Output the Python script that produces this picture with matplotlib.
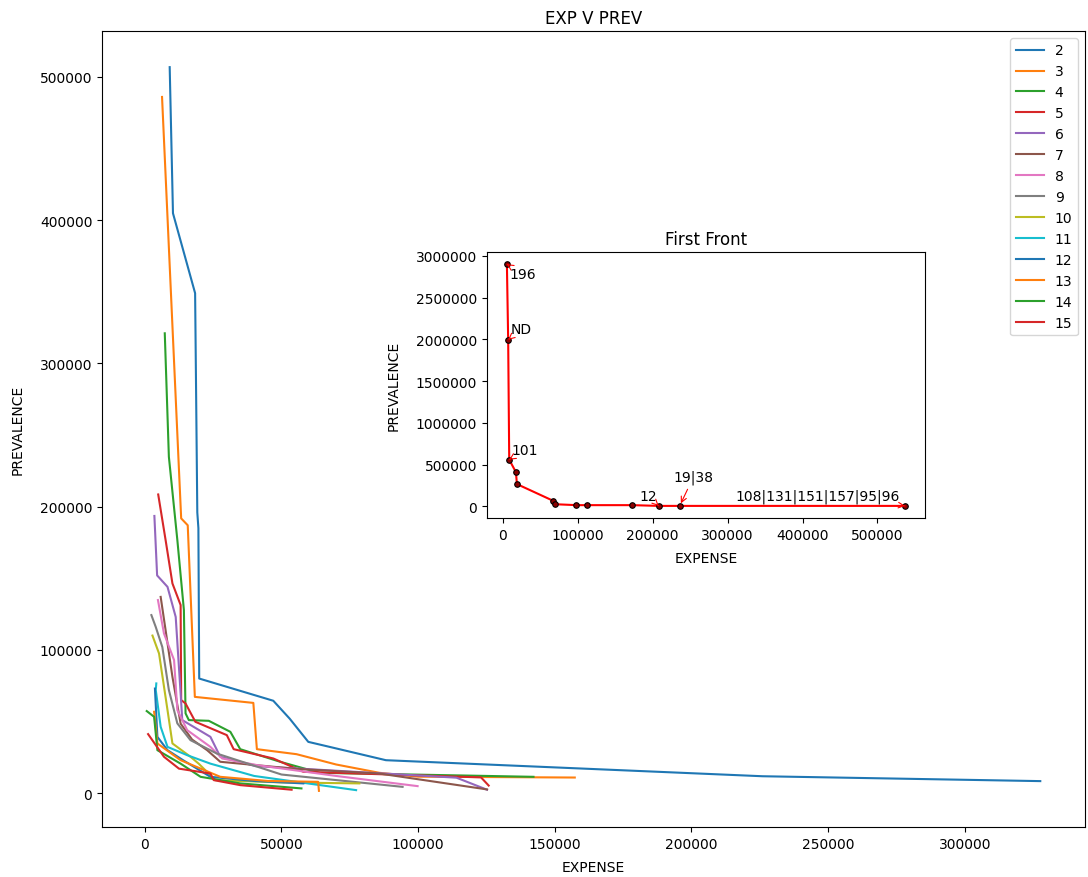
import matplotlib
matplotlib.use("Agg")
import matplotlib.pyplot as plt

# ---- main chart data (EXPENSE, PREVALENCE) per generation ----
labels = ["2", "3", "4", "5", "6", "7", "8", "9", "10", "11", "12", "13", "14", "15"]

exp_2 = [9100, 10300, 18400, 19200, 19600, 19900, 47000, 53000, 59800, 67600, 88200, 226000, 327600]
prev_2 = [506800, 404800, 349000, 196000, 185000, 80000, 64500, 52000, 35800, 32300, 23000, 11800, 8400]

exp_3 = [6300, 13300, 15700, 18300, 39700, 41000, 55500, 70000, 85800, 100000, 157300]
prev_3 = [486000, 191800, 187000, 67200, 63000, 30700, 27200, 20000, 14200, 11500, 10900]

exp_4 = [7300, 8800, 11900, 14300, 14900, 16100, 23400, 31300, 34900, 49500, 64000, 142200]
prev_4 = [321000, 234800, 176700, 127800, 55700, 51000, 50500, 42800, 30700, 21900, 14200, 11400]

exp_5 = [4900, 7600, 10100, 13100, 13300, 14900, 18500, 30000, 32500, 47000, 58000, 123000, 125800]
prev_5 = [208500, 176700, 146400, 131300, 65000, 62600, 49800, 40500, 30700, 24200, 14900, 11000, 5300]

exp_6 = [3500, 4500, 8300, 11300, 13100, 13700, 24000, 27600, 40400, 114000, 125200]
prev_6 = [193500, 152000, 144000, 123000, 69600, 51000, 39300, 25400, 18900, 10800, 2400]

exp_7 = [5800, 7600, 10100, 13100, 17300, 22800, 27600, 55000, 85800, 125200]
prev_7 = [137000, 113800, 81200, 48500, 37400, 30000, 21900, 17000, 13700, 2600]

exp_8 = [4800, 7000, 10700, 11900, 15500, 24000, 28300, 41000, 70000, 99800]
prev_8 = [134800, 111500, 92900, 58000, 44000, 32300, 24200, 19600, 12000, 4900]

exp_9 = [2400, 4000, 6400, 8800, 11900, 16700, 26400, 50000, 94300]
prev_9 = [124300, 116000, 102000, 72000, 48700, 37000, 27600, 13000, 4400]

exp_10 = [2800, 5200, 8300, 10100, 16700, 19700, 25800, 50000, 78500]
prev_10 = [110000, 97500, 58000, 34700, 25400, 20600, 9100, 7500, 6800]

exp_11 = [4200, 4000, 5800, 8300, 15500, 24000, 40000, 77300]
prev_11 = [76600, 72000, 46300, 32300, 26500, 20600, 12000, 2100]

exp_12 = [3700, 4600, 8300, 14000, 24000, 40000, 58000]
prev_12 = [73000, 39300, 30000, 23000, 11400, 8500, 6800]

exp_13 = [3400, 4600, 13100, 27600, 45000, 63400, 63700]
prev_13 = [56800, 34700, 23000, 11400, 8500, 7900, 1600]

exp_14 = [700, 3400, 4600, 13100, 20400, 34900, 57300]
prev_14 = [57300, 53300, 30000, 20600, 11400, 6800, 3300]

exp_15 = [1200, 7000, 12500, 24000, 25200, 34900, 53700]
prev_15 = [41200, 25400, 17100, 13700, 9100, 5600, 2400]

expenses = [exp_2, exp_3, exp_4, exp_5, exp_6, exp_7, exp_8, exp_9, exp_10,
            exp_11, exp_12, exp_13, exp_14, exp_15]
prevalences = [prev_2, prev_3, prev_4, prev_5, prev_6, prev_7, prev_8, prev_9,
               prev_10, prev_11, prev_12, prev_13, prev_14, prev_15]

# ---- inset: first front ----
front_exp = [5300, 7000, 8400, 17300, 18700, 67100, 69800, 98200, 112900, 172900, 208000, 236000, 537000]
front_prev = [2900000, 1994000, 558000, 410000, 266000, 66000, 25000, 14000, 14000, 14000, 5000, 5000, 5000]
front_labels = ["196", "ND", "101", "12", "19|38", "108|131|151|157|95|96"]
front_label_idx = [0, 1, 2, 10, 11, 12]

fig = plt.figure(figsize=(10.88, 8.78), dpi=100)
ax = fig.add_axes([0.0938, 0.0569, 0.9034, 0.9067])
for lab, xs, ys in zip(labels, expenses, prevalences):
    ax.plot(xs, ys, label=lab, lw=1.5)
ax.set_title("EXP V PREV")
ax.set_xlabel("EXPENSE", labelpad=6.5)
ax.set_ylabel("PREVALENCE", labelpad=11)
ax.legend(loc="upper right")

ax2 = fig.add_axes([0.4476, 0.4089, 0.4026, 0.3029])
ax2.plot(front_exp, front_prev, color="red", lw=1.5, marker="o", markersize=4,
         markerfacecolor="#8b0000", markeredgecolor="black", markeredgewidth=0.8)
ax2.set_title("First Front")
ax2.set_xlabel("EXPENSE", labelpad=6.5)
ax2.set_ylabel("PREVALENCE", labelpad=11)
ax2.ticklabel_format(style="plain", useOffset=False)

offsets = [(1.5, -7.2, "left"), (1.5, 7.7, "left"), (1.7, 7.2, "left"),
           (-7.5, 7.2, "center"), (10, 21, "center"), (-4, 7.2, "right")]
for lab, idx, (dx, dy, ha) in zip(front_labels, front_label_idx, offsets):
    ax2.annotate(lab, xy=(front_exp[idx], front_prev[idx]), xytext=(dx, dy),
                 textcoords="offset points", ha=ha, va="center", fontsize=10,
                 arrowprops=dict(arrowstyle="->", color="red", lw=0.8))

fig.savefig("out.png", dpi=100)
